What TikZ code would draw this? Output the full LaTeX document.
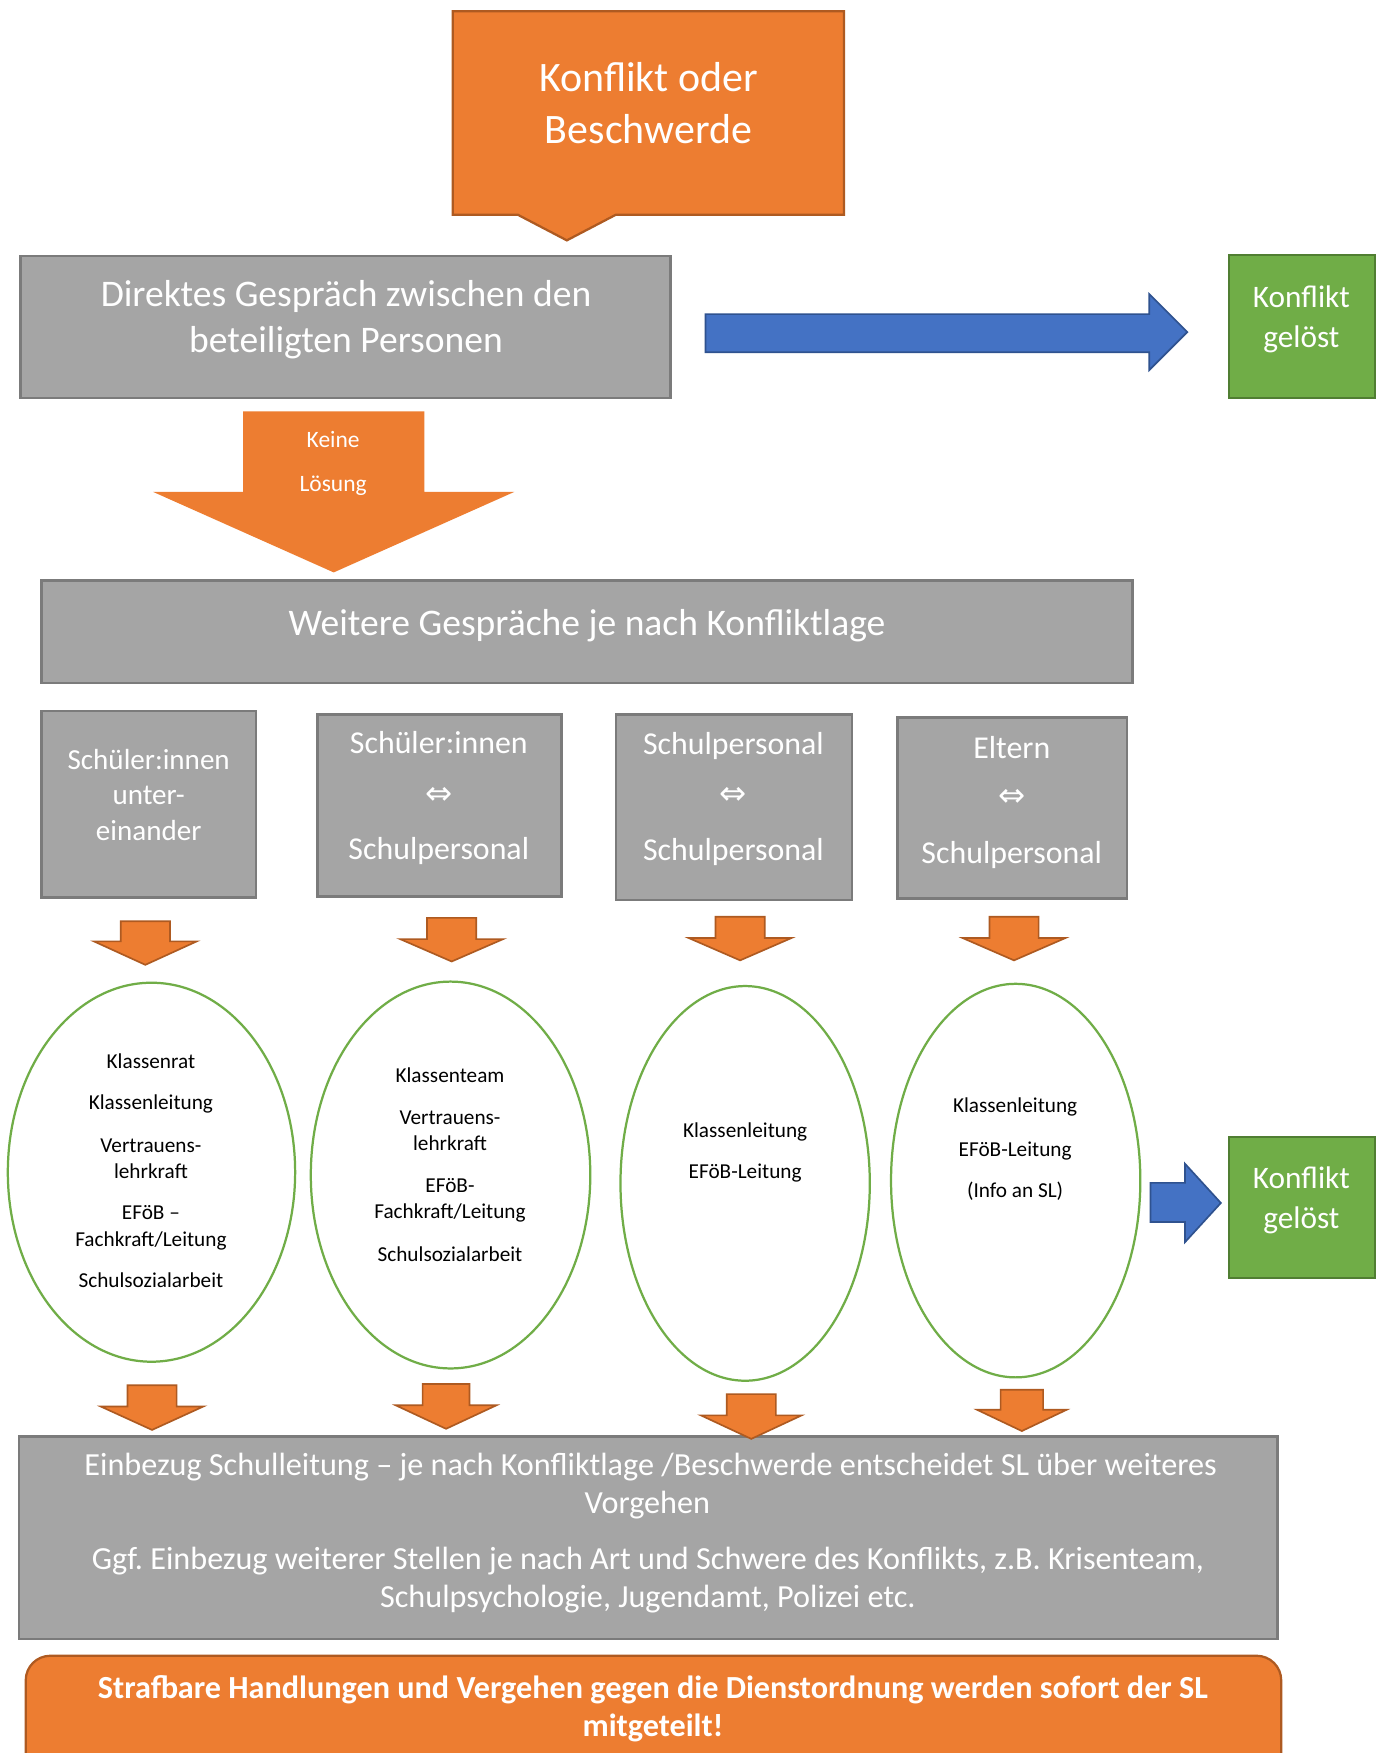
\documentclass[tikz,border=0pt]{standalone}
\usepackage{fontspec}
\setmainfont{Carlito}
\newfontfamily\dejavu{DejaVu Sans}
\usetikzlibrary{shapes.geometric}
\definecolor{orF}{HTML}{ED7D31}
\definecolor{orD}{HTML}{AE5A21}
\definecolor{grF}{HTML}{A5A5A5}
\definecolor{grD}{HTML}{7B7B7B}
\definecolor{blF}{HTML}{4472C4}
\definecolor{blD}{HTML}{2F528F}
\definecolor{gnF}{HTML}{70AD47}
\definecolor{gnD}{HTML}{507E32}
\frenchspacing
\newcommand\fs[1]{\fontsize{#1}{#1}\selectfont}
\newcommand\dnarrow[7]{\path[#7] ({#1-#5},#2) -- ({#1+#5},#2) -- ({#1+#5},#3) -- ({#1+#6},#3) -- (#1,#4) -- ({#1-#6},#3) -- ({#1-#5},#3) -- cycle;}
\tikzset{
  wtxt/.style={text=white, anchor=base, inner sep=0pt},
  btxt/.style={text=black, anchor=base, inner sep=0pt},
  graybox/.style={rectangle, fill=grF, draw=grD, line width=2.5pt, inner sep=0pt},
  greenbox/.style={rectangle, fill=gnF, draw=gnD, line width=2pt, inner sep=0pt},
  oval/.style={ellipse, draw=gnF, line width=2pt, fill=white, inner sep=0pt},
  orblock/.style={fill=orF, draw=orD, line width=1.5pt, line join=miter},
  orflat/.style={fill=orF},
  blblock/.style={fill=blF, draw=blD, line width=1.5pt, line join=miter},
  arr/.style={wtxt, anchor=center, font=\dejavu\fs{29}}
}
\begin{document}
\begin{tikzpicture}[x=1pt,y=-1pt]
\useasboundingbox[fill=white] (0,0) rectangle (1236,1568);

% top callout
\path[fill=orF, draw=orD, line width=2pt, line join=miter] (405,10) -- (755,10) -- (755,192) -- (551,192) -- (507,215) -- (463,192) -- (405,192) -- cycle;
\node[wtxt,font=\fs{37.5}] (t1a) at (580,82) {Konflikt oder};
\node[wtxt,font=\fs{37.5}] (t1b) at (580,128) {Beschwerde};

% direct talk
\node[graybox, minimum width=582pt, minimum height=127pt] (direkt) at (309,292.5) {};
\node[wtxt,font=\fs{33.6}] (t2a) at (309.5,274) {Direktes Gespräch zwischen den};
\node[wtxt,font=\fs{33.6}] (t2b) at (309.5,315) {beteiligten Personen};

% blue arrow
\path[blblock] (631,281) -- (1028,281) -- (1028,263) -- (1062,297) -- (1028,331) -- (1028,315) -- (631,315) -- cycle;

% Konflikt geloest 1
\node[greenbox, minimum width=131pt, minimum height=128pt] (gel1) at (1164.5,292) {};
\node[wtxt,font=\fs{28}] (t4a) at (1164,275) {Konflikt};
\node[wtxt,font=\fs{28}] (t4b) at (1164,311) {gelöst};

% Keine Loesung arrow
\dnarrow{298.5}{368}{440}{512}{81}{161.5}{orflat}
\node[wtxt,font=\fs{21}] (t3a) at (298,400) {Keine};
\node[wtxt,font=\fs{21}] (t3b) at (298,440) {Lösung};

% Weitere Gespraeche
\node[graybox, minimum width=976pt, minimum height=92pt] (weitere) at (525,565) {};
\node[wtxt,font=\fs{33.6}] (t5) at (525,568) {Weitere Gespräche je nach Konfliktlage};

% four boxes
\node[graybox, minimum width=192pt, minimum height=167pt] (ba) at (133,719.5) {};
\node[wtxt,font=\fs{26}] (ba1) at (133,688) {Schüler:innen};
\node[wtxt,font=\fs{26}] (ba2) at (133,720) {unter-};
\node[wtxt,font=\fs{26}] (ba3) at (133,752) {einander};

\node[graybox, minimum width=218pt, minimum height=163pt] (bb) at (393,720.5) {};
\node[wtxt,font=\fs{28.5}] (bb1) at (392.5,674) {Schüler:innen};
\node[arr] (bb2) at (392.5,712) {⇔};
\node[wtxt,font=\fs{28.5}] (bb3) at (392.5,769) {Schulpersonal};

\node[graybox, minimum width=211pt, minimum height=166pt] (bc) at (656.5,722) {};
\node[wtxt,font=\fs{28.5}] (bc1) at (656,675) {Schulpersonal};
\node[arr] (bc2) at (656,712) {⇔};
\node[wtxt,font=\fs{28.5}] (bc3) at (656,770) {Schulpersonal};

\node[graybox, minimum width=205pt, minimum height=162pt] (bd) at (905.5,723) {};
\node[wtxt,font=\fs{28.5}] (bd1) at (905,678) {Eltern};
\node[arr] (bd2) at (905,714) {⇔};
\node[wtxt,font=\fs{28.5}] (bd3) at (905,772) {Schulpersonal};

% small arrows under boxes
\dnarrow{130}{824}{842}{863}{22}{46}{orblock}
\dnarrow{404}{821}{840}{860}{22}{46}{orblock}
\dnarrow{662}{820}{839}{859}{22}{46}{orblock}
\dnarrow{907}{820}{839}{859}{22}{46}{orblock}

% ellipses
\node[oval, minimum width=257pt, minimum height=339pt] (ea) at (135.5,1048.5) {};
\node[oval, minimum width=250pt, minimum height=346pt] (eb) at (403,1051) {};
\node[oval, minimum width=223pt, minimum height=353pt] (ec) at (666.5,1058.5) {};
\node[oval, minimum width=223pt, minimum height=352pt] (ed) at (908.5,1056) {};

\node[btxt,font=\fs{19}] (ea1) at (135,956) {Klassenrat};
\node[btxt,font=\fs{19}] (ea2) at (135,992.5) {Klassenleitung};
\node[btxt,font=\fs{19}] (ea3) at (135,1031) {Vertrauens-};
\node[btxt,font=\fs{19}] (ea4) at (135,1054) {lehrkraft};
\node[btxt,font=\fs{19}] (ea5) at (135,1091) {EFöB –};
\node[btxt,font=\fs{19}] (ea6) at (135,1114.5) {Fachkraft/Leitung};
\node[btxt,font=\fs{19}] (ea7) at (135,1152) {Schulsozialarbeit};

\node[btxt,font=\fs{19}] (eb1) at (402.5,968.5) {Klassenteam};
\node[btxt,font=\fs{19}] (eb2) at (402.5,1006) {Vertrauens-};
\node[btxt,font=\fs{19}] (eb3) at (402.5,1029) {lehrkraft};
\node[btxt,font=\fs{19}] (eb4) at (402.5,1067) {EFöB-};
\node[btxt,font=\fs{19}] (eb5) at (402.5,1090) {Fachkraft/Leitung};
\node[btxt,font=\fs{19}] (eb6) at (402.5,1128) {Schulsozialarbeit};

\node[btxt,font=\fs{19}] (ec1) at (666.5,1017) {Klassenleitung};
\node[btxt,font=\fs{19}] (ec2) at (666.5,1054.5) {EFöB-Leitung};

\node[btxt,font=\fs{19}] (ed1) at (908,995.5) {Klassenleitung};
\node[btxt,font=\fs{19}] (ed2) at (908,1034) {EFöB-Leitung};
\node[btxt,font=\fs{19}] (ed3) at (908,1071) {(Info an SL)};

% small blue arrow and Konflikt geloest 2
\path[blblock] (1029,1058) -- (1060,1058) -- (1060,1041) -- (1092,1076) -- (1060,1111) -- (1060,1093) -- (1029,1093) -- cycle;
\node[greenbox, minimum width=131pt, minimum height=126pt] (gel2) at (1164.5,1080) {};
\node[wtxt,font=\fs{28}] (g2a) at (1164,1063.5) {Konflikt};
\node[wtxt,font=\fs{28}] (g2b) at (1164,1099) {gelöst};

% Einbezug box
\node[graybox, minimum width=1126pt, minimum height=181pt] (einb) at (580,1375.5) {};
\node[wtxt,font=\fs{28.8}] (e1) at (582,1320) {Einbezug Schulleitung – je nach Konfliktlage /Beschwerde entscheidet SL über weiteres};
\node[wtxt,font=\fs{28.8}] (e2) at (579,1354) {Vorgehen};
\node[wtxt,font=\fs{28.8}] (e3) at (579.5,1404) {Ggf. Einbezug weiterer Stellen je nach Art und Schwere des Konflikts, z.B. Krisenteam,};
\node[wtxt,font=\fs{28.8}] (e4) at (579.5,1438) {Schulpsychologie, Jugendamt, Polizei etc.};

% bottom arrows
\dnarrow{136}{1239}{1258}{1279}{22}{46}{orblock}
\dnarrow{399}{1238}{1257}{1278}{21}{45}{orblock}
\dnarrow{672}{1247}{1266}{1287}{22}{45}{orblock}
\dnarrow{914}{1243}{1261}{1280}{19}{40}{orblock}

% Strafbare box
\node[rectangle, rounded corners=22pt, fill=orF, draw=orD, line width=2pt, minimum width=1123pt, minimum height=109pt, inner sep=0pt] (straf) at (584.5,1535.5) {};
\node[wtxt,font=\bfseries\fs{28.8}] (s1) at (584,1519) {Strafbare Handlungen und Vergehen gegen die Dienstordnung werden sofort der SL};
\node[wtxt,font=\bfseries\fs{28.8}] (s2) at (584,1553) {mitgeteilt!};
\end{tikzpicture}
\end{document}
